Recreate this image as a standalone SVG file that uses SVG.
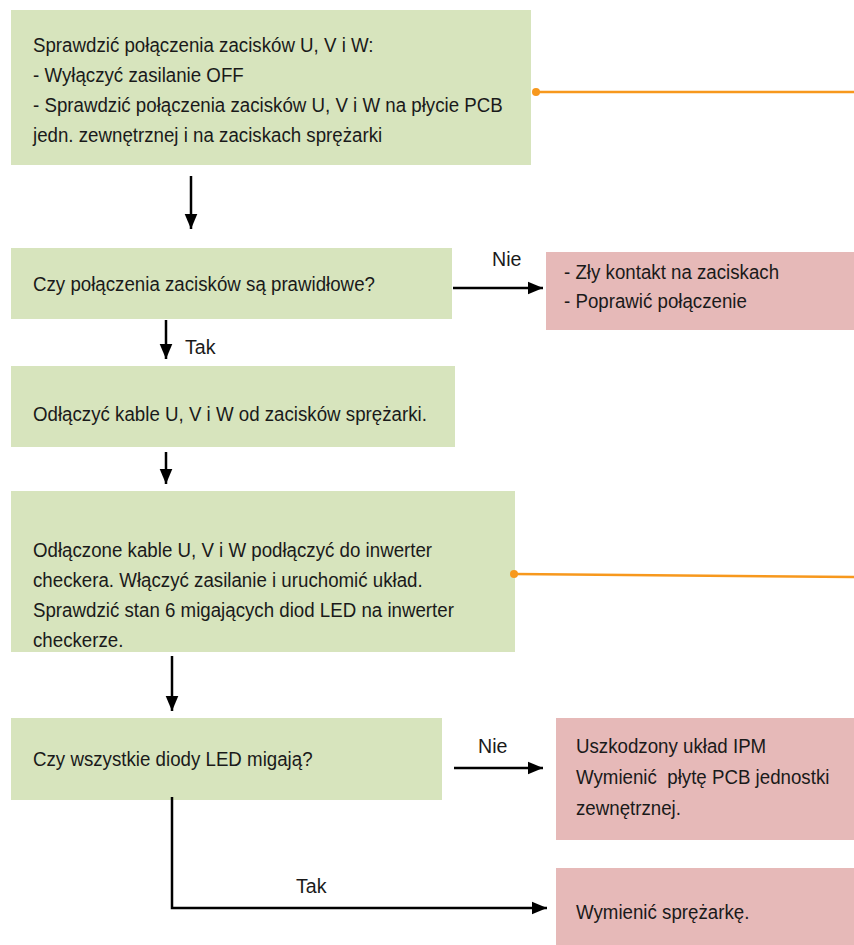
<svg xmlns="http://www.w3.org/2000/svg" width="854" height="945" viewBox="0 0 854 945">
<defs>
<style>
.g{fill:#d7e4bd}
.p{fill:#e6b9b8}
text{font-family:"Liberation Sans","DejaVu Sans",sans-serif;font-size:20px;fill:#1a1a1a}
.l text{font-size:21px}
.c{stroke:#000;stroke-width:2.5;fill:none}
.o{stroke:#f7981d;stroke-width:2.5;fill:none}
</style>
<marker id="a" viewBox="0 0 10 10" refX="10" refY="5" markerWidth="6" markerHeight="6" orient="auto" markerUnits="strokeWidth"><path d="M0,0.8 L10,5 L0,9.2 z" fill="#000"/></marker>
</defs>
<g id="n1"><rect class="g" x="11" y="10" width="520" height="155"/>
<g transform="translate(33 0) scale(0.935 1)">
<text x="0" y="52">Sprawdzić połączenia zacisków U, V i W:</text>
<text x="0" y="82">- Wyłączyć zasilanie OFF</text>
<text x="0" y="112">- Sprawdzić połączenia zacisków U, V i W na płycie PCB</text>
<text x="0" y="142">jedn. zewnętrznej i na zaciskach sprężarki</text></g></g>
<g id="n2"><rect class="g" x="11" y="248" width="441" height="71"/>
<g transform="translate(33 0) scale(0.935 1)"><text x="0" y="291">Czy połączenia zacisków są prawidłowe?</text></g></g>
<g id="n3"><rect class="p" x="546" y="252" width="308" height="78"/>
<g transform="translate(564 0) scale(0.935 1)">
<text x="0" y="279">- Zły kontakt na zaciskach</text>
<text x="0" y="308">- Poprawić połączenie</text></g></g>
<g id="n4"><rect class="g" x="11" y="366" width="444" height="81"/>
<g transform="translate(33 0) scale(0.935 1)"><text x="0" y="421">Odłączyć kable U, V i W od zacisków sprężarki.</text></g></g>
<g id="n5"><rect class="g" x="11" y="491" width="504" height="161"/>
<g transform="translate(33 0) scale(0.935 1)">
<text x="0" y="557">Odłączone kable U, V i W podłączyć do inwerter</text>
<text x="0" y="587">checkera. Włączyć zasilanie i uruchomić układ.</text>
<text x="0" y="617">Sprawdzić stan 6 migających diod LED na inwerter</text>
<text x="0" y="647">checkerze.</text></g></g>
<g id="n6"><rect class="g" x="11" y="718" width="431" height="82"/>
<g transform="translate(33 0) scale(0.935 1)"><text x="0" y="766">Czy wszystkie diody LED migają?</text></g></g>
<g id="n7"><rect class="p" x="556" y="718" width="298" height="122"/>
<g transform="translate(576 0) scale(0.935 1)">
<text x="0" y="753">Uszkodzony układ IPM</text>
<text x="0" y="784">Wymienić&#160; płytę PCB jednostki</text>
<text x="0" y="815">zewnętrznej.</text></g></g>
<g id="n8"><rect class="p" x="556" y="868" width="298" height="77"/>
<g transform="translate(576 0) scale(0.935 1)"><text x="0" y="919">Wymienić sprężarkę.</text></g></g>
<g id="connectors">
<path class="c" d="M191,176 V229" marker-end="url(#a)"/>
<path class="c" d="M453,288 H543" marker-end="url(#a)"/>
<path class="c" d="M166,320 V359" marker-end="url(#a)"/>
<path class="c" d="M166,452 V484" marker-end="url(#a)"/>
<path class="c" d="M172,656 V711" marker-end="url(#a)"/>
<path class="c" d="M454,768 H543" marker-end="url(#a)"/>
<path class="c" d="M172,797 V908 H547" marker-end="url(#a)"/>
<g class="l">
<g transform="translate(492 0) scale(0.935 1)"><text x="0" y="266">Nie</text></g>
<g transform="translate(185 0) scale(0.935 1)"><text x="0" y="354">Tak</text></g>
<g transform="translate(478 0) scale(0.935 1)"><text x="0" y="753">Nie</text></g>
<g transform="translate(296 0) scale(0.935 1)"><text x="0" y="893">Tak</text></g>
</g>
<path class="o" d="M536,92 H854"/>
<circle cx="536" cy="92" r="4" fill="#f7981d"/>
<path class="o" d="M514,574 L854,577"/>
<circle cx="514" cy="574" r="4" fill="#f7981d"/>
</g>
</svg>
